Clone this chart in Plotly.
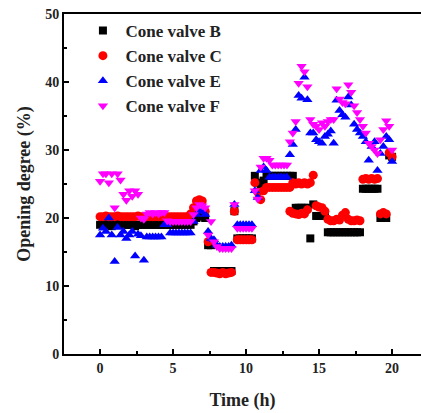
import numpy as np
import plotly.graph_objects as go

# Sampling grid (h), one reading every 0.2 h
hours = np.round(np.arange(0, 20.001, 0.2), 1)

# Opening degree (%) of each cone valve, ten readings (2 h) per row
open_b = [
    19.0, 19.2, 19.0, 19.0, 18.8, 19.0, 19.2, 19.0, 19.0, 19.0,
    19.0, 19.0, 18.8, 19.0, 19.0, 19.0, 19.0, 19.0, 19.0, 19.0,
    19.0, 19.0, 19.0, 19.0, 19.0, 19.0, 19.0, 19.0, 19.0, 19.0,
    19.0, 19.0, 19.5, 20.0, 20.2, 20.5, 20.0, 16.0, 16.0, 12.2,
    12.2, 12.2, 12.2, 12.2, 12.2, 12.2, 21.0, 17.0, 17.0, 17.0,
    17.0, 17.0, 17.0, 26.2, 25.2, 25.0, 25.5, 26.2, 26.2, 26.2,
    26.2, 26.2, 26.2, 26.2, 26.2, 26.2, 26.2, 21.5, 21.5, 21.5,
    21.5, 21.5, 17.0, 22.0, 20.3, 20.3, 20.3, 20.3, 17.9, 17.9,
    17.9, 17.9, 17.9, 17.9, 17.9, 17.9, 17.9, 17.9, 17.9, 17.9,
    24.3, 24.3, 24.3, 24.3, 24.3, 24.3, 20.0, 20.0, 20.0, 29.2,
    29.0,
]

open_c = [
    20.2, 20.2, 20.3, 20.2, 20.2, 20.2, 20.3, 20.2, 20.2, 20.2,
    20.2, 20.2, 20.2, 20.3, 20.2, 20.2, 20.2, 20.2, 20.2, 20.2,
    20.2, 20.2, 20.2, 20.2, 20.2, 20.2, 20.2, 20.2, 20.2, 20.2,
    20.2, 20.6, 21.5, 22.5, 22.7, 22.5, 21.0, 16.5, 12.0, 12.0,
    11.9, 11.8, 12.0, 11.8, 11.9, 12.0, 21.0, 16.8, 16.8, 16.8,
    16.8, 16.8, 16.8, 25.2, 23.8, 22.7, 24.0, 24.5, 24.5, 24.5,
    24.5, 24.5, 24.5, 24.5, 24.5, 24.5, 25.2, 25.0, 25.2, 25.0,
    25.2, 25.0, 25.2, 26.3, 21.8, 21.6, 21.5, 21.0, 19.8, 19.6,
    19.6, 19.8, 19.7, 20.4, 20.8, 19.8, 19.6, 19.6, 19.7, 19.6,
    25.7, 25.8, 25.7, 25.8, 25.7, 25.8, 20.6, 20.8, 20.6, 29.6,
    29.0,
]

# Second set of valve C readings logged between 13 h and 14.2 h
extra_hours_c = [13.0, 13.2, 13.4, 13.6, 13.8, 14.0, 14.2]
extra_open_c = [21.0, 20.7, 20.6, 20.5, 20.7, 20.6, 21.2]

open_e = [
    17.5, 18.5, 18.0, 20.0, 17.5, 13.6, 18.6, 17.5, 18.0, 17.0,
    17.5, 18.0, 14.4, 17.6, 17.4, 13.8, 17.2, 17.2, 17.2, 17.2,
    17.2, 17.2, 19.0, 19.0, 17.8, 17.8, 17.8, 17.8, 17.8, 17.8,
    17.8, 17.8, 19.5, 20.5, 21.0, 21.0, 20.5, 18.0, 17.0, 16.8,
    16.0, 15.8, 15.8, 15.8, 15.8, 16.0, 22.0, 19.0, 19.0, 19.0,
    19.0, 19.0, 19.0, 24.0, 23.0, 27.0, 27.5, 27.0, 26.0, 26.0,
    26.0, 26.0, 26.0, 26.0, 26.0, 29.3, 30.8, 33.0, 38.0, 37.6,
    40.7, 37.4, 32.5, 32.5, 31.5, 31.2, 31.0, 32.0, 32.3, 32.8,
    31.0, 37.3, 35.8, 35.2, 34.8, 37.8, 36.6, 33.8, 33.0, 32.5,
    32.0, 31.2, 28.5, 30.5, 31.2, 27.0, 29.5, 30.5, 32.0, 31.5,
    28.3,
]

open_f = [
    25.4, 26.5, 26.5, 25.2, 26.5, 21.5, 26.5, 25.6, 23.5, 22.6,
    24.0, 23.2, 24.0, 23.5, 20.0, 19.8, 20.6, 20.8, 20.6, 20.8,
    20.6, 20.8, 20.8, 19.6, 19.5, 19.5, 19.5, 19.5, 19.5, 19.5,
    19.5, 19.5, 20.5, 21.5, 22.0, 21.8, 21.5, 17.5, 19.5, 16.5,
    15.8, 15.5, 15.5, 15.5, 15.5, 15.5, 22.0, 18.5, 18.5, 18.5,
    18.5, 18.5, 18.5, 24.0, 22.8, 27.5, 28.8, 28.8, 28.5, 27.8,
    27.8, 27.8, 27.8, 27.8, 27.8, 31.2, 32.5, 34.2, 39.8, 42.3,
    41.5, 39.3, 34.5, 33.8, 33.5, 33.0, 34.0, 33.5, 34.2, 34.5,
    34.5, 39.0, 37.5, 37.0, 36.8, 39.6, 38.5, 36.5, 35.5, 34.5,
    33.5, 32.5, 31.0, 30.5, 30.0, 29.5, 31.5, 33.0, 34.3, 33.5,
    30.0,
]

names = ["Cone valve B", "Cone valve C", "Cone valve E", "Cone valve F"]
colors = ["#000000", "#ff0000", "#0000ff", "#ff00ff"]
symbols = ["square", "circle", "triangle-up", "triangle-down"]
sizes = [8, 9, 9, 9]

series = [
    (list(hours), open_b),
    (list(hours) + extra_hours_c, open_c + extra_open_c),
    (list(hours), open_e),
    (list(hours), open_f),
]

SERIF = "Liberation Serif, Times New Roman, serif"

fig = go.Figure()
for (t, v), name, col, sym, sz in zip(series, names, colors, symbols, sizes):
    fig.add_trace(go.Scatter(
        x=t, y=v, mode="markers", name=name,
        marker=dict(symbol=sym, color=col, size=sz, line=dict(width=0)),
    ))

axis_common = dict(
    showgrid=False, zeroline=False, showline=True, linecolor="#000000",
    linewidth=2, ticks="inside", ticklen=5, tickwidth=1.5, tickcolor="#000000",
    tickfont=dict(family=SERIF, size=14, color="#222222", weight="bold"),
)

fig.update_layout(
    width=421, height=413,
    margin=dict(l=64, r=0, t=14, b=59),
    paper_bgcolor="#ffffff", plot_bgcolor="#ffffff",
    showlegend=True,
    legend=dict(
        x=0.046, y=1.003, xanchor="left", yanchor="top",
        bgcolor="rgba(0,0,0,0)", borderwidth=0,
        font=dict(family=SERIF, size=17, color="#222222", weight="bold"),
        itemwidth=35, tracegroupgap=0,
    ),
    xaxis=dict(
        range=[-2.47, 21.98], tick0=0, dtick=5, mirror=True,
        minor=dict(ticks="inside", ticklen=3, dtick=2.5, tickcolor="#000000"),
        title=dict(text="Time (h)", standoff=19,
                   font=dict(family=SERIF, size=18, color="#222222", weight="bold")),
        **axis_common,
    ),
    yaxis=dict(
        range=[0, 50], tick0=0, dtick=10, mirror=False,
        minor=dict(ticks="inside", ticklen=3, dtick=5, tickcolor="#000000"),
        title=dict(text="Opening degree (%)", standoff=10,
                   font=dict(family=SERIF, size=18, color="#222222", weight="bold")),
        **axis_common,
    ),
)

fig.write_html("out.html")
